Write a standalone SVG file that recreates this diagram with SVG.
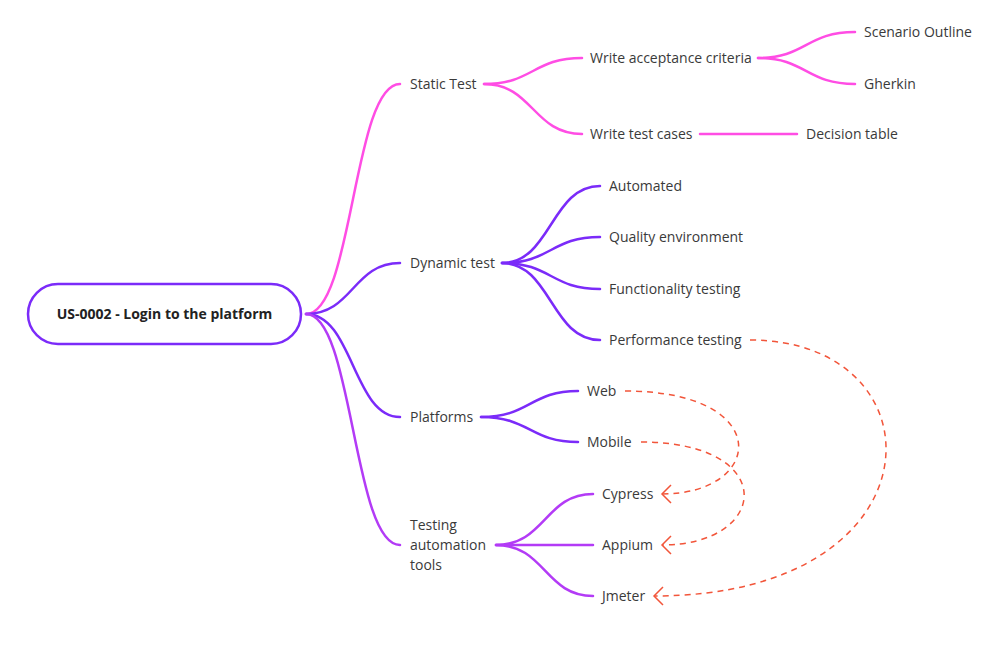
<svg xmlns="http://www.w3.org/2000/svg" width="997" height="660" viewBox="0 0 997 660">
<defs>
<style>
text{font-family:"Open Sans","Liberation Sans",sans-serif;font-size:14px;fill:#3a3a3a}
.root{font-weight:bold;font-size:14px;fill:#222222}
.b{fill:none;stroke-width:2.5;stroke-linecap:round}
.pink{stroke:#FF4DE4}
.vio{stroke:#7B2BF9}
.pur{stroke:#B33BF6}
.dash{fill:none;stroke:#F2553A;stroke-width:1.5;stroke-dasharray:6 5}
</style>
<marker id="arr" viewBox="0 0 12 20" refX="10" refY="10" markerWidth="12" markerHeight="20" markerUnits="userSpaceOnUse" orient="auto">
<path d="M1,1 L10,10 L1,19" fill="none" stroke="#F2553A" stroke-width="1.5"/>
</marker>
</defs>
<rect width="997" height="660" fill="#ffffff"/>
<g id="connectors">
<path class="b pink" d="M306,314 C353,314 353,84 400,84"/>
<path class="b vio" d="M306,314 C353,314 353,263 400,263"/>
<path class="b vio" d="M306,314 C353,314 353,417 400,417"/>
<path class="b pur" d="M306,314 C353,314 353,545 400,545"/>
<path class="b pink" d="M484,84 C533,84 533,58 582,58"/>
<path class="b pink" d="M484,84 C533,84 533,134 582,134"/>
<path class="b pink" d="M758,58 C806,58 806,32 855,32"/>
<path class="b pink" d="M758,58 C806,58 806,84 855,84"/>
<path class="b pink" d="M700,134 L797,134"/>
<path class="b vio" d="M502,263 C551,263 551,186 600,186"/>
<path class="b vio" d="M502,263 C551,263 551,237 600,237"/>
<path class="b vio" d="M502,263 C551,263 551,289 600,289"/>
<path class="b vio" d="M502,263 C551,263 551,340 600,340"/>
<path class="b vio" d="M481,417 C530,417 530,391 578,391"/>
<path class="b vio" d="M481,417 C530,417 530,442 578,442"/>
<path class="b pur" d="M496,545 C545,545 545,494 593,494"/>
<path class="b pur" d="M496,545 L593,545"/>
<path class="b pur" d="M496,545 C545,545 545,596 593,596"/>
<path class="dash" d="M625,391 C775,391 765,494 662,494" marker-end="url(#arr)"/>
<path class="dash" d="M641,442 C780,442 770,545 662,545" marker-end="url(#arr)"/>
<path class="dash" d="M750,340 C945,340 945,596 654,596" marker-end="url(#arr)"/>
</g>
<g id="root">
<rect x="28" y="284" width="273" height="60" rx="30" ry="30" fill="#ffffff" stroke="#7B2BF9" stroke-width="2.5"/>
<text class="root" x="164.5" y="319" text-anchor="middle">US-0002 - Login to the platform</text>
</g>
<g id="static-test"><text x="410" y="89">Static Test</text></g>
<g id="write-acceptance"><text x="590" y="63">Write acceptance criteria</text></g>
<g id="scenario-outline"><text x="864" y="37">Scenario Outline</text></g>
<g id="gherkin"><text x="864" y="89">Gherkin</text></g>
<g id="write-test-cases"><text x="590" y="139">Write test cases</text></g>
<g id="decision-table"><text x="806" y="139">Decision table</text></g>
<g id="dynamic-test"><text x="410" y="268">Dynamic test</text></g>
<g id="automated"><text x="609" y="191">Automated</text></g>
<g id="quality-env"><text x="609" y="242">Quality environment</text></g>
<g id="functionality"><text x="609" y="294">Functionality testing</text></g>
<g id="performance"><text x="609" y="345">Performance testing</text></g>
<g id="platforms"><text x="410" y="422">Platforms</text></g>
<g id="web"><text x="587" y="396">Web</text></g>
<g id="mobile"><text x="587" y="447">Mobile</text></g>
<g id="testing-tools"><text x="410" y="530">Testing</text><text x="410" y="550">automation</text><text x="410" y="570">tools</text></g>
<g id="cypress"><text x="602" y="499">Cypress</text></g>
<g id="appium"><text x="602" y="550">Appium</text></g>
<g id="jmeter"><text x="602" y="601">Jmeter</text></g>
</svg>
